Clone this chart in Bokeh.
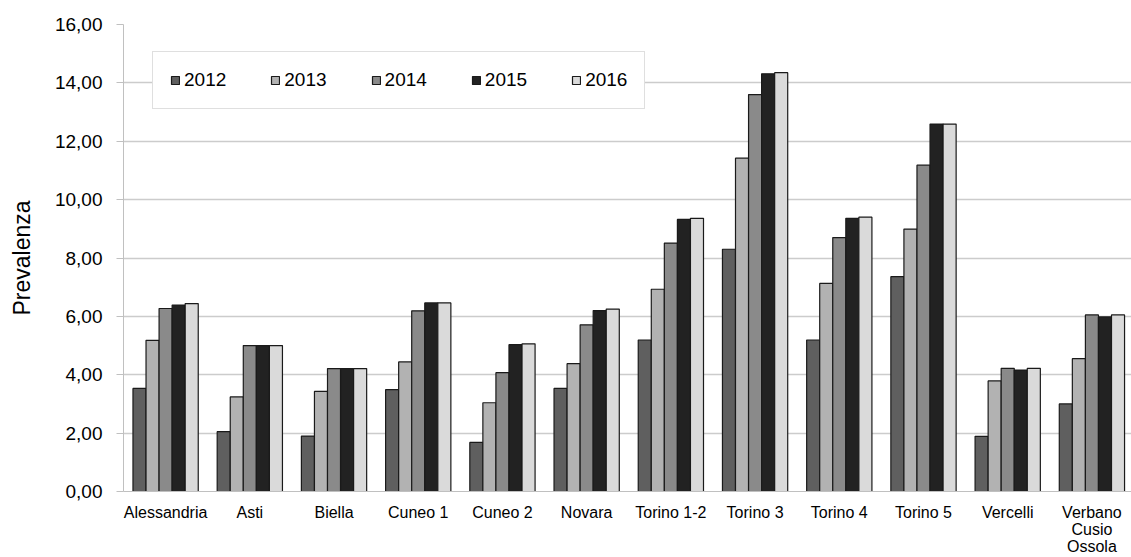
from bokeh.plotting import figure
from bokeh.models import ColumnDataSource, Range1d, FixedTicker, Legend, LegendItem
from bokeh.transform import dodge
from bokeh.embed import file_html
from bokeh.resources import INLINE

categories = ["Alessandria", "Asti", "Biella", "Cuneo 1", "Cuneo 2", "Novara",
              "Torino 1-2", "Torino 3", "Torino 4", "Torino 5", "Vercelli",
              "Verbano\nCusio\nOssola"]
years = ["2012", "2013", "2014", "2015", "2016"]
v2012 = [3.53, 2.05, 1.90, 3.49, 1.68, 3.53, 5.19, 8.30, 5.19, 7.36, 1.89, 3.00]
v2013 = [5.18, 3.24, 3.43, 4.44, 3.04, 4.38, 6.93, 11.42, 7.13, 8.99, 3.79, 4.55]
v2014 = [6.27, 5.00, 4.21, 6.19, 4.07, 5.71, 8.51, 13.60, 8.70, 11.18, 4.22, 6.05]
v2015 = [6.39, 5.00, 4.21, 6.46, 5.03, 6.20, 9.32, 14.31, 9.36, 12.59, 4.16, 5.98]
v2016 = [6.44, 5.00, 4.21, 6.46, 5.06, 6.25, 9.36, 14.35, 9.40, 12.59, 4.22, 6.05]
y_ticks = [0, 2, 4, 6, 8, 10, 12, 14, 16]
y_tick_labels = ["0,00", "2,00", "4,00", "6,00", "8,00", "10,00", "12,00", "14,00", "16,00"]

colors = ["#5f5f5f", "#b2b2b2", "#8a8a8a", "#222222", "#dadada"]
series = [v2012, v2013, v2014, v2015, v2016]

xpos = [i + 0.5 for i in range(len(categories))]
data = {"x": xpos}
for y, s in zip(years, series):
    data["y" + y] = s
source = ColumnDataSource(data)

FONT = "Liberation Sans"
p = figure(width=1131, height=557, output_backend="svg", toolbar_location=None,
           x_range=Range1d(0, 11.97), y_range=Range1d(0, 16),
           min_border_left=123, min_border_right=0, min_border_top=24,
           min_border_bottom=65)
p.outline_line_color = None
p.background_fill_color = "white"

bw = 0.155
offsets = [-2 * bw, -bw, 0, bw, 2 * bw]
renderers = []
for y, c, off in zip(years, colors, offsets):
    r = p.vbar(x=dodge("x", off), top="y" + y, width=bw, bottom=0, source=source,
               fill_color=c, line_color="#1a1a1a", line_width=1.2)
    renderers.append(r)

# x axis
p.xaxis.ticker = FixedTicker(ticks=xpos)
p.xaxis.major_label_overrides = {x: c for x, c in zip(xpos, categories)}
p.xaxis.major_tick_line_color = None
p.xaxis.major_tick_out = 0
p.xaxis.major_tick_in = 0
p.xaxis.minor_tick_line_color = None
p.xaxis.minor_tick_out = 0
p.xaxis.axis_label_standoff = 0
p.xaxis.axis_line_color = "#c0c0c0"
p.xaxis.major_label_text_font = FONT
p.xaxis.major_label_text_font_size = "16px"
p.xaxis.major_label_text_line_height = 1.0
p.xaxis.major_label_text_color = "#000000"
p.xaxis.major_label_standoff = 12

p.yaxis.ticker = FixedTicker(ticks=y_ticks)
p.yaxis.major_label_overrides = {t: l for t, l in zip(y_ticks, y_tick_labels)}
p.yaxis.minor_tick_line_color = None
p.yaxis.major_tick_out = 7
p.yaxis.major_tick_in = 0
p.yaxis.major_tick_line_color = "#c0c0c0"
p.yaxis.axis_line_color = "#c0c0c0"
p.yaxis.major_label_text_font = FONT
p.yaxis.major_label_text_font_size = "19px"
p.yaxis.major_label_text_color = "#000000"
p.yaxis.major_label_standoff = 14
p.yaxis.axis_label = "Prevalenza"
p.yaxis.axis_label_text_font = FONT
p.yaxis.axis_label_text_font_size = "23px"
p.yaxis.axis_label_text_font_style = "normal"
p.yaxis.axis_label_text_color = "#000000"
p.yaxis.axis_label_standoff = 17

p.xgrid.grid_line_color = None
p.ygrid.grid_line_color = "#cccccc"
p.ygrid.grid_line_width = 1.5
p.ygrid.ticker = FixedTicker(ticks=y_ticks)

legend = Legend(items=[LegendItem(label=y, renderers=[r]) for y, r in zip(years, renderers)],
                orientation="horizontal", location=(29, 382),
                label_text_font=FONT, label_text_font_size="19px",
                label_text_color="#000000", glyph_width=10, glyph_height=10,
                label_standoff=4, spacing=44, padding=17, label_height=21,
                border_line_color="#bfbfbf", border_line_width=1,
                background_fill_color="white", background_fill_alpha=1.0,
                margin=0)
p.add_layout(legend, "center")

open("out.html", "w").write(file_html(p, INLINE))
